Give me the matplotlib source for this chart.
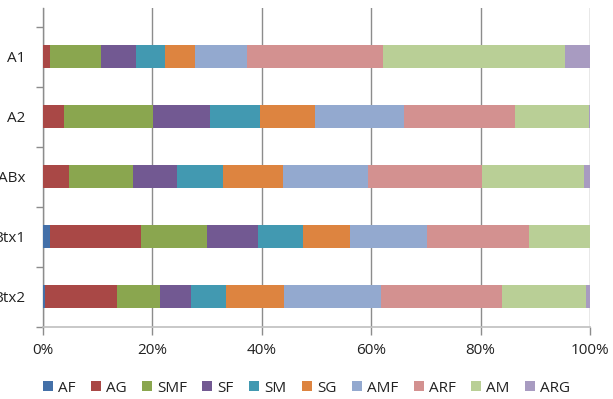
import matplotlib
matplotlib.use("Agg")
import matplotlib.pyplot as plt
import numpy as np

# Sample horizons, listed top to bottom
categories = ["A1", "A2", "ABx", "Btx1", "Btx2"]
series_names = ["AF", "AG", "SMF", "SF", "SM", "SG", "AMF", "ARF", "AM", "ARG"]

# Percentage share of each class per horizon
AF  = [0.0, 0.0, 0.0, 1.4, 0.5]
AG  = [1.4, 3.9, 4.9, 16.5, 13.1]
SMF = [9.3, 16.2, 11.7, 12.1, 7.9]
SF  = [6.4, 10.5, 7.9, 9.4, 5.6]
SM  = [5.3, 9.1, 8.4, 8.1, 6.5]
SG  = [5.5, 10.1, 11.1, 8.7, 10.6]
AMF = [9.5, 16.2, 15.5, 14.0, 17.7]
ARF = [24.8, 20.3, 20.7, 18.6, 22.0]
AM  = [33.2, 13.6, 18.7, 11.2, 15.4]
ARG = [4.6, 0.1, 1.1, 0.0, 0.7]

x_ticks = [0, 20, 40, 60, 80, 100]
x_tick_labels = ["0%", "20%", "40%", "60%", "80%", "100%"]

colors = ["#4470A8", "#A94846", "#8AA64F", "#725992", "#4299B1",
          "#DD8440", "#93A9CF", "#D39190", "#B9CF96", "#A89BC1"]

plt.rcParams["font.family"] = ["Open Sans", "DejaVu Sans"]

W, H = 613, 399
fig = plt.figure(figsize=(W / 100, H / 100), dpi=100)
left, right = 42.5 / W, 590 / W
bottom, top = 1 - 326.7 / H, 1 - 8 / H
ax = fig.add_axes([left, bottom, right - left, top - bottom])

data = np.array([AF, AG, SMF, SF, SM, SG, AMF, ARF, AM, ARG], dtype=float)
totals = data.sum(axis=0)
shares = data / totals * 100

y = np.arange(len(categories))[::-1]
cum = np.zeros(len(categories))
for name, vals, c in zip(series_names, shares, colors):
    ax.barh(y, vals, left=cum, height=0.39, color=c, label=name,
            linewidth=0, zorder=3)
    cum += vals

ax.set_xlim(0, 100)
ax.set_ylim(-0.5, 4.81)

ax.set_xticks(x_ticks)
ax.set_xticklabels(x_tick_labels, fontsize=11, color="#222222")
ax.xaxis.grid(True, color="#8C8C8C", linewidth=1.0, zorder=0)
ax.set_axisbelow(True)

ax.set_yticks(y)
ax.set_yticklabels(categories, fontsize=11, color="#222222")
ax.set_yticks(np.arange(-0.5, 5.0, 1.0), minor=True)
ax.tick_params(axis="y", which="major", length=0, pad=12)
ax.tick_params(axis="y", which="minor", length=5, color="#8C8C8C", width=1)
ax.tick_params(axis="x", which="major", length=6, color="#8C8C8C", width=1,
               pad=6)

for s in ["top", "right"]:
    ax.spines[s].set_visible(False)
ax.spines["left"].set_color("#8C8C8C")
ax.spines["bottom"].set_color("#BFBFBF")
ax.spines["left"].set_linewidth(1.0)
ax.spines["bottom"].set_linewidth(1.2)

leg = fig.legend(loc="center", bbox_to_anchor=(0.5, 1 - 388 / H), ncol=10,
                 frameon=False, fontsize=11, handlelength=0.65,
                 handleheight=0.65, handletextpad=0.35, columnspacing=1.0)
for t in leg.get_texts():
    t.set_color("#222222")

fig.savefig("out.png", dpi=100)
